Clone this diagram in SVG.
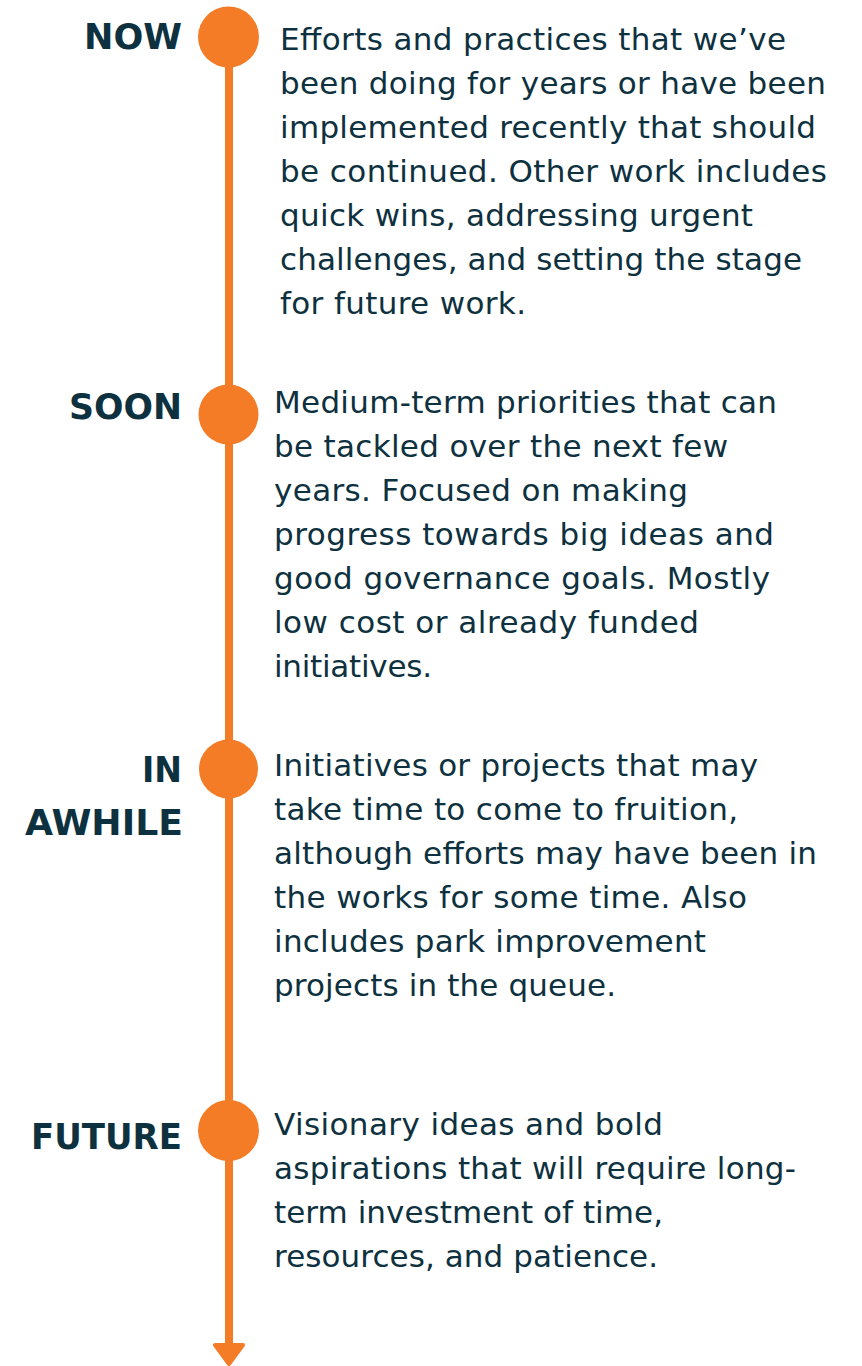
<svg xmlns="http://www.w3.org/2000/svg" width="862" height="1366" viewBox="0 0 862 1366">
  <style>
    .label { font-family: "DejaVu Sans", "Liberation Sans", sans-serif; font-weight: bold; font-size: 35px; fill: #0e3140; text-anchor: end; }
    .body { font-family: "DejaVu Sans", "Liberation Sans", sans-serif; font-size: 31px; fill: #0e3140; }
    .dot { fill: #f47c27; }
    .spine { stroke: #f47c27; stroke-width: 8; fill: none; }
    .head { fill: #f47c27; stroke: #f47c27; stroke-width: 4; stroke-linejoin: round; }
  </style>
  <rect width="862" height="1366" fill="#ffffff"/>

  <!-- timeline spine and arrowhead -->
  <g id="connectors">
    <line class="spine" x1="229" y1="37" x2="229" y2="1346"/>
    <polygon class="head" points="215,1345 243,1345 229,1364"/>
  </g>

  <g id="node-now">
    <circle class="dot" cx="228.5" cy="37" r="30.5"/>
    <text class="label" x="182" y="49" textLength="98" lengthAdjust="spacingAndGlyphs">NOW</text>
    <text class="body" x="280" y="50" textLength="506">Efforts and practices that we’ve</text>
    <text class="body" x="280" y="94" textLength="546">been doing for years or have been</text>
    <text class="body" x="280" y="138" textLength="536">implemented recently that should</text>
    <text class="body" x="280" y="182" textLength="547">be continued. Other work includes</text>
    <text class="body" x="280" y="226" textLength="473">quick wins, addressing urgent</text>
    <text class="body" x="280" y="270" textLength="522">challenges, and setting the stage</text>
    <text class="body" x="280" y="314" textLength="246">for future work.</text>
  </g>

  <g id="node-soon">
    <circle class="dot" cx="228.5" cy="414.5" r="30"/>
    <text class="label" x="182" y="419" textLength="113" lengthAdjust="spacingAndGlyphs">SOON</text>
    <text class="body" x="274" y="413" textLength="503">Medium-term priorities that can</text>
    <text class="body" x="274" y="457" textLength="454">be tackled over the next few</text>
    <text class="body" x="274" y="501" textLength="414">years. Focused on making</text>
    <text class="body" x="274" y="545" textLength="500">progress towards big ideas and</text>
    <text class="body" x="274" y="589" textLength="496">good governance goals. Mostly</text>
    <text class="body" x="274" y="633" textLength="425">low cost or already funded</text>
    <text class="body" x="274" y="677" textLength="158">initiatives.</text>
  </g>

  <g id="node-in-awhile">
    <circle class="dot" cx="228.5" cy="769" r="29.5"/>
    <text class="label" x="182" y="782" textLength="40" lengthAdjust="spacingAndGlyphs">IN</text>
    <text class="label" x="183" y="835" textLength="158" lengthAdjust="spacingAndGlyphs">AWHILE</text>
    <text class="body" x="274" y="776" textLength="484">Initiatives or projects that may</text>
    <text class="body" x="274" y="820" textLength="464">take time to come to fruition,</text>
    <text class="body" x="274" y="864" textLength="543">although efforts may have been in</text>
    <text class="body" x="274" y="908" textLength="473">the works for some time. Also</text>
    <text class="body" x="274" y="952" textLength="432">includes park improvement</text>
    <text class="body" x="274" y="996" textLength="342">projects in the queue.</text>
  </g>

  <g id="node-future">
    <circle class="dot" cx="228.5" cy="1130.5" r="30.5"/>
    <text class="label" x="182" y="1149" textLength="151" lengthAdjust="spacingAndGlyphs">FUTURE</text>
    <text class="body" x="274" y="1135" textLength="389">Visionary ideas and bold</text>
    <text class="body" x="274" y="1179" textLength="522">aspirations that will require long-</text>
    <text class="body" x="274" y="1223" textLength="389">term investment of time,</text>
    <text class="body" x="274" y="1267" textLength="384">resources, and patience.</text>
  </g>
</svg>
